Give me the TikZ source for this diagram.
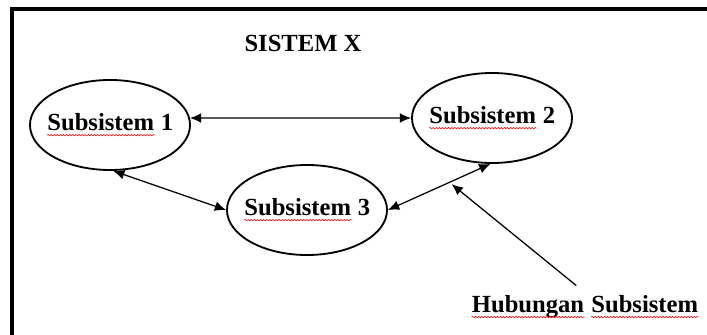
\documentclass[tikz,border=0pt]{standalone}
\usepackage{fontspec}
\setmainfont{Liberation Serif}
\usetikzlibrary{shapes.geometric, arrows.meta, decorations.pathmorphing}

% red spell-check wave under a word
\newcommand\redwave[1]{\tikz[baseline=(w.base)]{\node[shape=rectangle, draw=none, minimum width=0pt, minimum height=0pt, inner sep=0pt] (w) {#1};
  \draw[red, line width=0.4pt, decorate, decoration={snake, amplitude=0.5pt, segment length=2.2pt}]
    ([yshift=-3pt]w.base west) -- ([yshift=-3pt]w.base east);}}

\begin{document}
\begin{tikzpicture}[
    x=0.025cm, y=-0.025cm,
    subsys/.style={ellipse, minimum width=4cm, minimum height=2.25cm, inner xsep=-10pt, inner ysep=0pt, draw=black, line width=1.3pt, font=\fontsize{17.5}{20}\selectfont\bfseries},
    label/.style={font=\fontsize{17.5}{20}\selectfont\bfseries, inner sep=2pt},
    arrow/.style={line width=0.9pt,{Latex[length=8pt,width=7pt]}-{Latex[length=8pt,width=7pt]}},
    pointer/.style={line width=0.9pt,-{Latex[length=8pt,width=7pt]}}
]
\useasboundingbox (0,0) rectangle (707,334);
\clip (0,0) rectangle (707,334);

% Frame
\draw[line width=2.5pt] (12,350) -- (12,9) -- (720,9);

% Nodes
\node (title) [label] at (303,43) {SISTEM X};
\node (sub1) [subsys] at (110,125) {\redwave{Subsistem} 1};
\node (sub2) [subsys] at (492,118) {\redwave{Subsistem} 2};
\node (sub3) [subsys] at (307,210) {\redwave{Subsistem} 3};
\node (hub) [label] at (585,307) {\redwave{Hubungan} \redwave{Subsistem}};

% Arrows
\draw [arrow] (sub1.5) -- (sub2.180);
\draw [arrow] (sub1.-86) -- (sub3.west);
\draw [arrow] (sub3.east) -- coordinate[pos=0.6] (mid) (sub2.-92);
\draw [pointer, shorten <=8pt, shorten >=2pt] (hub.north) -- (mid);

\end{tikzpicture}
\end{document}
